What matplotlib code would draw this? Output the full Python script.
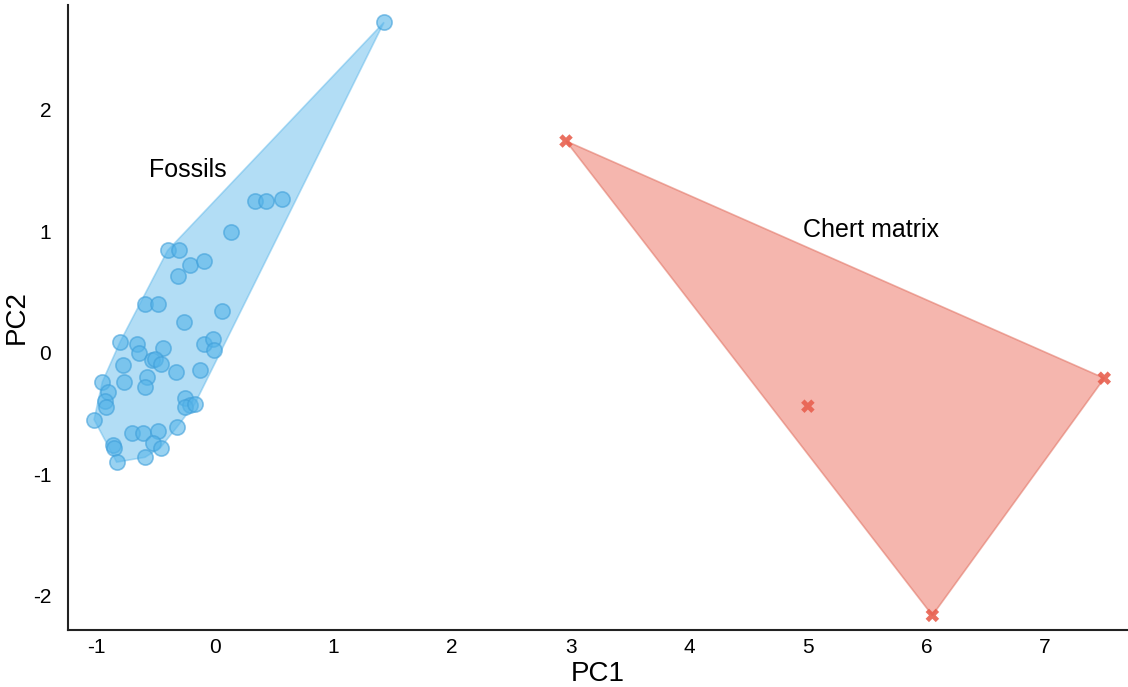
import numpy as np
import matplotlib
matplotlib.use('Agg')
import matplotlib.pyplot as plt

# ---------------------------------------------------------
# PCA scores
fossil_pc1 = [1.425, 0.34, 0.43, 0.565, 0.135, -0.40, -0.30, -0.21, -0.09,
              -0.31, -0.59, -0.48, 0.06, -0.26, -0.80, -0.66, -0.64, -0.44,
              -0.53, -0.51, -0.46, -0.09, -0.02, -0.01, -0.78, -0.33, -0.13,
              -0.95, -0.77, -0.57, -0.59, -0.90, -0.93, -0.92, -0.25, -0.21,
              -0.25, -0.17, -1.02, -0.32, -0.70, -0.61, -0.48, -0.52, -0.46,
              -0.86, -0.85, -0.83, -0.59]
fossil_pc2 = [2.716, 1.25, 1.25, 1.26, 0.996, 0.84, 0.84, 0.72, 0.75,
              0.63, 0.40, 0.40, 0.34, 0.25, 0.09, 0.07, 0.00, 0.04,
              -0.06, -0.05, -0.09, 0.07, 0.11, 0.02, -0.10, -0.16, -0.14,
              -0.24, -0.24, -0.20, -0.28, -0.32, -0.40, -0.45, -0.37, -0.43,
              -0.45, -0.42, -0.55, -0.61, -0.66, -0.66, -0.64, -0.74, -0.78,
              -0.76, -0.78, -0.90, -0.86]
chert_pc1 = [2.96, 5.00, 7.50, 6.05]
chert_pc2 = [1.74, -0.44, -0.21, -2.16]
x_ticks = [-1, 0, 1, 2, 3, 4, 5, 6, 7]
y_ticks = [-2, -1, 0, 1, 2]


def hull(xs, ys):
    pts = sorted(set(zip(xs, ys)))
    def cross(o, a, b):
        return (a[0]-o[0])*(b[1]-o[1]) - (a[1]-o[1])*(b[0]-o[0])
    lower, upper = [], []
    for p in pts:
        while len(lower) >= 2 and cross(lower[-2], lower[-1], p) <= 0:
            lower.pop()
        lower.append(p)
    for p in reversed(pts):
        while len(upper) >= 2 and cross(upper[-2], upper[-1], p) <= 0:
            upper.pop()
        upper.append(p)
    return np.array(lower[:-1] + upper[:-1])


plt.rcParams['font.family'] = ['Liberation Sans', 'DejaVu Sans']
plt.rcParams['axes.unicode_minus'] = False

fig = plt.figure(figsize=(11.28, 6.87), dpi=100)
ax = fig.add_axes([0.0603, 0.083, 0.9397, 0.91])

blue, red = '#56B4E9', '#E8604F'
hb = hull(fossil_pc1, fossil_pc2)
ax.fill(hb[:, 0], hb[:, 1], facecolor=blue, alpha=0.45,
        edgecolor=blue, linewidth=1.2)
ax.scatter(fossil_pc1, fossil_pc2, s=120, color=blue, alpha=0.6,
           edgecolor='#3f9fda', linewidth=1.2, zorder=3)
hr = hull(chert_pc1, chert_pc2)
ax.fill(hr[:, 0], hr[:, 1], facecolor='#EE7A6C', alpha=0.55,
        edgecolor='#E07060', linewidth=1.2)
ax.scatter(chert_pc1, chert_pc2, s=95, marker='X', color=red,
           edgecolor='none', alpha=0.9, zorder=3)

ax.text(-0.23, 1.50, 'Fossils', fontsize=18, ha='center', va='center')
ax.text(5.53, 1.01, 'Chert matrix', fontsize=18, ha='center', va='center')

ax.set_xlim(-1.24, 7.70)
ax.set_ylim(-2.28, 2.86)
ax.set_xticks(x_ticks)
ax.set_yticks(y_ticks)
ax.tick_params(length=0, labelsize=15, pad=6)
ax.tick_params(axis='y', pad=12)
ax.set_xlabel('PC1', fontsize=20, labelpad=3)
ax.set_ylabel('PC2', fontsize=20, labelpad=2)
for s in ['top', 'right']:
    ax.spines[s].set_visible(False)
for s in ['left', 'bottom']:
    ax.spines[s].set_linewidth(1.5)
    ax.spines[s].set_color('#222222')

fig.savefig('out.png', dpi=100)
